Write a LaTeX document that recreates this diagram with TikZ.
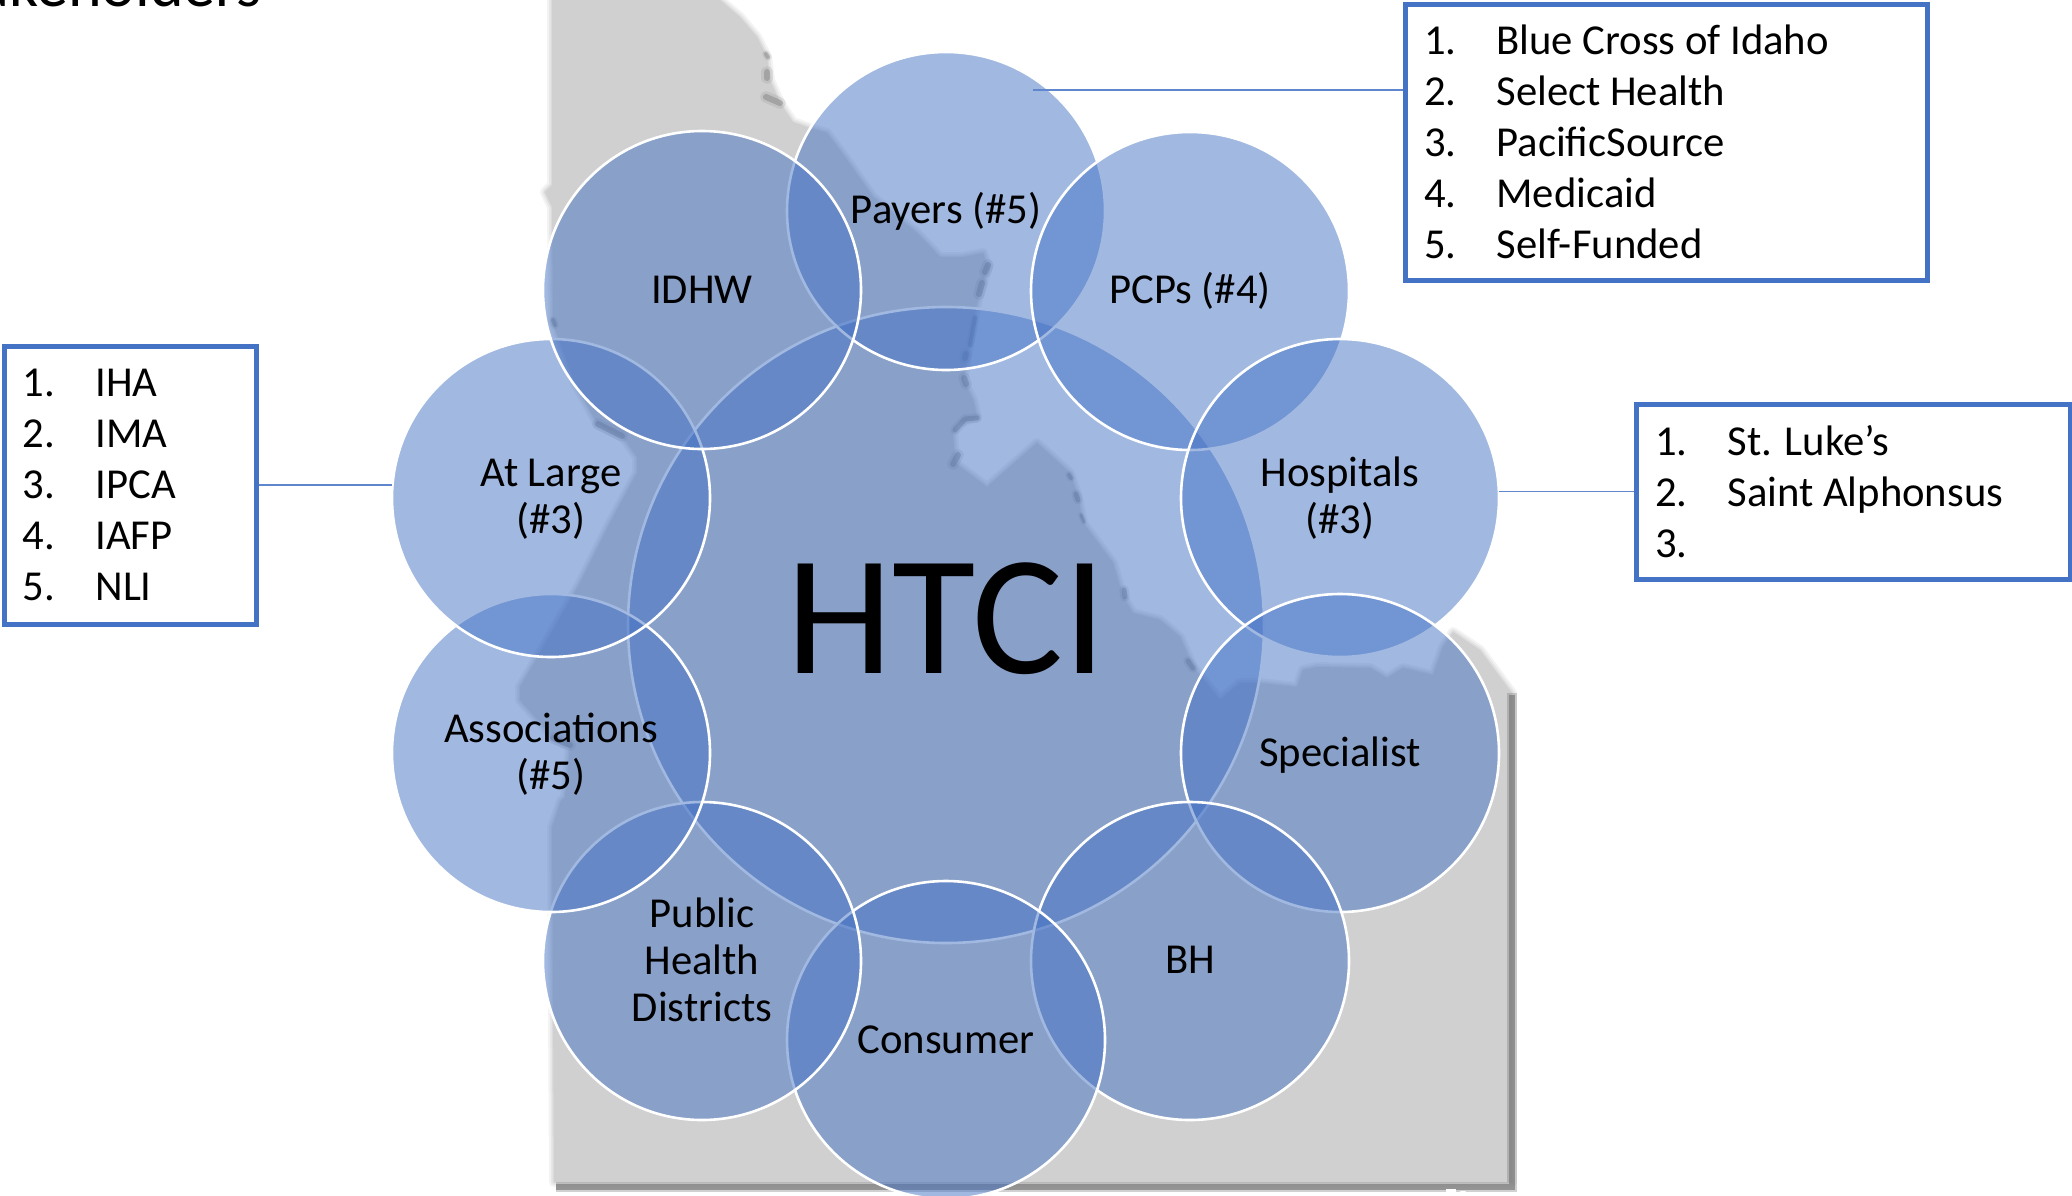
\documentclass[tikz,border=0pt]{standalone}
\usepackage{fontspec}
\setmainfont{Carlito}
\definecolor{pptblue}{HTML}{4472C4}
\definecolor{mapgray}{HTML}{D0D0D0}
\definecolor{mapdark}{HTML}{7A7A7A}
\newcommand{\lineitem}[2]{\makebox[72.5pt][l]{#1}#2}
\tikzset{
  bubble/.style={circle,draw=white,line width=2.6pt,fill=pptblue,fill opacity=.5,draw opacity=1,inner sep=0pt,outer sep=0pt,minimum size=318pt},
  hub/.style={bubble,minimum size=636pt},
  bubblelabel/.style={align=flush center,text=black,font=\fontsize{42.67}{46.8}\selectfont,inner sep=0pt},
  listbox/.style={draw=pptblue,line width=5pt,fill=white,inner xsep=19pt,inner ysep=0pt,align=flush left,text=black,font=\fontsize{42.67}{51}\selectfont},
  conn/.style={draw=pptblue!85!white,line width=1.5pt},
  softmark/.style={draw=mapdark,opacity=.42,line width=#1,line cap=round,line join=round,preaction={draw=mapdark,opacity=.16,line width=1.9*#1,line cap=round,line join=round}},
  softmark/.default=6pt,
  mapedge/.style={line join=round,draw=mapgray},
}
\begin{document}
\begin{tikzpicture}[x=1pt,y=-1pt]
\useasboundingbox (0,0) rectangle (2072,1195);
\begin{scope}
\clip (0,0) rectangle (2072,1195);
% map of Idaho
\def\mapoutline{(552,-5) -- (720,-5) -- (720,0) -- (740,17) -- (757,37) -- (767,57) -- (770,80) -- (780,103) -- (793,122) -- (810,128) -- (827,133) -- (847,160) -- (873,197) -- (917,233) -- (940,257) -- (963,257) -- (983,253) -- (988,267) -- (980,290) -- (975,313) -- (967,357) -- (963,380) -- (973,400) -- (977,417) -- (957,423) -- (953,433) -- (955,463) -- (987,487) -- (1003,473) -- (1037,443) -- (1070,473) -- (1078,497) -- (1083,523) -- (1113,563) -- (1123,597) -- (1133,613) -- (1160,620) -- (1180,637) -- (1193,667) -- (1220,700) -- (1240,683) -- (1260,683) -- (1297,687) -- (1303,670) -- (1317,667) -- (1370,668) -- (1387,678) -- (1403,668) -- (1433,675) -- (1443,647) -- (1453,632) -- (1480,650) -- (1497,673) -- (1512,693) -- (1512,1182) -- (554,1182) -- (552,828) -- (561,801) -- (565,797) -- (570,747) -- (553,737) -- (520,700) -- (520,687) -- (540,653) -- (580,583) -- (600,543) -- (610,523) -- (637,473) -- (637,457) -- (623,437) -- (597,423) -- (575,383) -- (553,323) -- (552,207) -- (545,192) -- (552,185) -- cycle}
\draw[mapedge,opacity=.25,line width=10pt] \mapoutline;
\draw[mapedge,opacity=.35,line width=6pt] \mapoutline;
\draw[mapedge,opacity=.5,line width=2.5pt] \mapoutline;
\fill[mapgray] \mapoutline;
% dark shadow
\draw[draw=mapdark,opacity=.35,line width=10pt] (1512,693) -- (1512,1187) -- (556,1187);
\draw[draw=mapdark,opacity=.7,line width=6pt] (1512,695) -- (1512,1187) -- (556,1187);
\fill[white] (1446,1189) rectangle (1456,1195);
\fill[white] (1460,1191) -- (1466,1191) -- (1463,1195) -- cycle;
% dark marks along the border
\draw[softmark=4pt] (766,54) -- (768,57);
\draw[softmark=6pt] (767,72) -- (767,78);
\draw[softmark=6pt] (766,97) -- (780,103);
\draw[softmark=4pt] (553,320) -- (555,325);
\draw[softmark=6pt] (988,265) -- (985,272);
\draw[softmark=6pt] (982,283) -- (979,294);
\draw[softmark=4pt] (975,318) -- (970,345);
\draw[softmark=6pt] (966,354) -- (965,358);
\draw[softmark=6pt] (964,378) -- (966,384);
\draw[softmark=5pt] (977,418) -- (965,419) -- (955,430);
\draw[softmark=6pt] (958,455) -- (953,464);
\draw[softmark=4pt] (1069,475) -- (1071,478);
\draw[softmark=5pt] (1076,494) -- (1078,500);
\draw[softmark=3pt] (1081,515) -- (1084,522);
\draw[softmark=5pt] (1124,590) -- (1125,597);
\draw[softmark=5pt] (1188,661) -- (1193,668);
\draw[softmark=6pt] (598,424) -- (622,436);
\draw[softmark=6pt] (553,738) -- (570,745);
\end{scope}
% hub and surrounding circles
\node[hub] (hub) at (946,625) {};
\node[bubble] (payers) at (946,211) {};
\node[bubble] (pcps) at (1190,291) {};
\node[bubble] (hospitals) at (1340,498) {};
\node[bubble] (specialist) at (1340,753) {};
\node[bubble] (bh) at (1190,961) {};
\node[bubble] (consumer) at (946,1040) {};
\node[bubble] (phd) at (702,961) {};
\node[bubble] (assoc) at (551,753) {};
\node[bubble] (atlarge) at (551,498) {};
\node[bubble] (idhw) at (702,290) {};
% labels
\node[inner sep=0pt,text=black,font=\fontsize{170.67}{180}\selectfont] (htci) at (946,619) {HTCI};
\node[bubblelabel] (lpayers) at (payers) {Payers (\#5)};
\node[bubblelabel] (lpcps) at (pcps) {PCPs (\#4)};
\node[bubblelabel] (lhospitals) at (hospitals) {Hospitals\\(\#3)};
\node[bubblelabel,yshift=-2.5pt] (lspecialist) at (specialist) {Specialist};
\node[bubblelabel,yshift=1pt] (lbh) at (bh) {BH};
\node[bubblelabel] (lconsumer) at (consumer) {Consumer};
\node[bubblelabel,yshift=1.3pt] (lphd) at (phd) {Public\\Health\\Districts};
\node[bubblelabel,yshift=-1.3pt] (lassoc) at (assoc) {Associations\\(\#5)};
\node[bubblelabel,yshift=-1.3pt] (latlarge) at (atlarge) {At Large\\(\#3)};
\node[bubblelabel] (lidhw) at (idhw) {IDHW};
% list boxes
\node[listbox,text width=484pt,minimum height=276pt] (box1) at (1666,142) {\lineitem{1.}{Blue Cross of Idaho}\\\lineitem{2.}{Select Health}\\\lineitem{3.}{PacificSource}\\\lineitem{4.}{Medicaid}\\\lineitem{5.}{Self-Funded}};
\node[listbox,text width=214pt,minimum height=278pt] (box2) at (130,485) {\lineitem{1.}{IHA}\\\lineitem{2.}{IMA}\\\lineitem{3.}{IPCA}\\\lineitem{4.}{IAFP}\\\lineitem{5.}{NLI}};
\node[listbox,text width=396pt,minimum height=175pt] (box3) at (1853,491.5) {\lineitem{1.}{St. Luke’s}\\\lineitem{2.}{Saint Alphonsus}\\\lineitem{3.}{}};
% connectors
\coordinate (payerend) at (1033,90);
\draw[conn] (box1.west |- payerend) -- (payerend);
\draw[conn] (box2.east) -- (box2.east -| atlarge.west);
\draw[conn] (box3.west) -- (box3.west -| hospitals.east);
% clipped heading
\begin{scope}
\clip (0,0) rectangle (2072,1195);
\node[anchor=base east,inner sep=0pt,text=black,font=\fontsize{64}{70}\selectfont] (heading) at (262,6) {Stakeholders};
\end{scope}
\end{tikzpicture}
\end{document}
